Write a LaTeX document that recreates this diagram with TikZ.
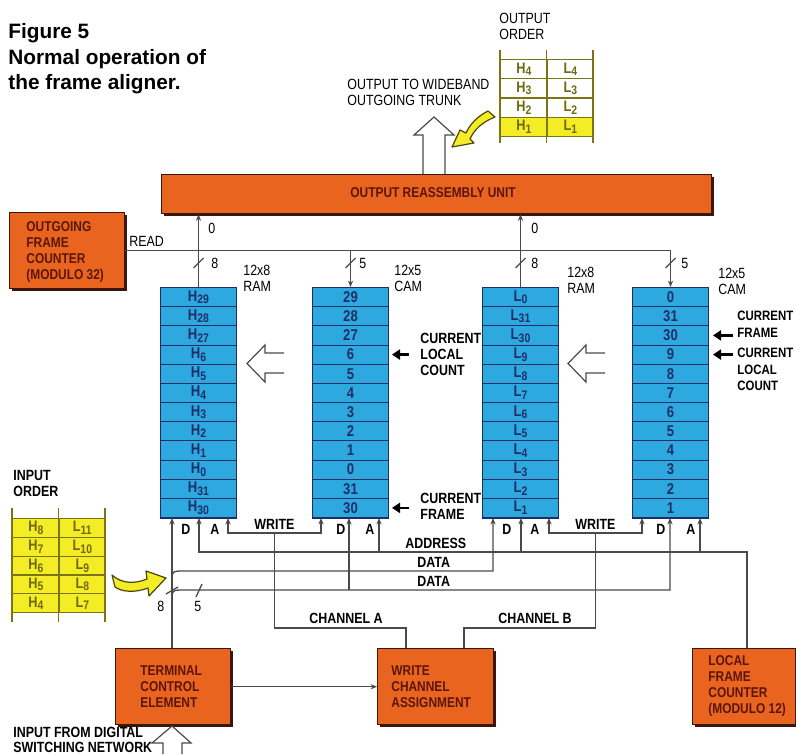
\documentclass[tikz,border=0pt]{standalone}
\usepackage{fontspec}
\setmainfont{Liberation Sans}[FakeStretch=0.84]
\newfontfamily\titlefont{Liberation Sans}
\usetikzlibrary{arrows.meta,calc,shadows}
\definecolor{org}{HTML}{E9641F}
\definecolor{orgdark}{HTML}{3B160C}
\definecolor{orgtext}{HTML}{5C150A}
\definecolor{cellblue}{HTML}{2EA9E0}
\definecolor{celldark}{HTML}{1E2F68}
\definecolor{ylw}{HTML}{F4EC24}
\definecolor{olivec}{HTML}{7C7514}
\definecolor{olivetext}{HTML}{6E6A10}
\definecolor{wirec}{HTML}{4A4A4A}
\newcommand\mysub[1]{\raisebox{-1.3pt}{\fontsize{6.2}{6}\selectfont #1}}
\newcommand\Hs[1]{H\mysub{#1}}
\newcommand\Ls[1]{L\mysub{#1}}
\newcommand\memcolumn[3]{%
  \foreach \t [count=\i] in {#3} {
    \node[cell] (#1-\i) at (#2,{287+(\i-1)*19.1667}) {\t};
  }
  \draw[celldark,line width=1.1pt] (#1-12.south west) -- (#1-12.south east);
}
\begin{document}
\begin{tikzpicture}[x=0.5pt,y=-0.5pt,
  wire/.style={draw=wirec,line width=0.65pt},
  port/.style={wire,-{Stealth[length=3.2pt,width=2.6pt]}},
  dport/.style={wire,{Stealth[length=3.2pt,width=2.6pt]}-{Stealth[length=3.2pt,width=2.6pt]}},
  lbl/.style={inner sep=0pt,anchor=base west,font=\fontsize{7.4}{8}\selectfont},
  blbl/.style={inner sep=0pt,anchor=base west,font=\fontsize{7.4}{8}\selectfont\bfseries},
  cell/.style={draw=celldark,fill=cellblue,line width=0.5pt,minimum width=38pt,minimum height=9.583pt,inner sep=0pt,anchor=north west,text=celldark,font=\fontsize{7.8}{8}\selectfont\bfseries},
  obox/.style={fill=org,draw=orgdark,line width=0.7pt,inner sep=0pt,anchor=north west,drop shadow={shadow xshift=1.2pt,shadow yshift=-1.2pt,fill=orgdark,opacity=1}},
  otxt/.style={inner sep=0pt,anchor=base west,text=orgtext,font=\fontsize{7.1}{8}\selectfont\bfseries},
  tcell/.style={draw=olivec,line width=0.6pt,minimum width=23.25pt,inner sep=0pt,anchor=north west,text=olivetext,font=\fontsize{7.6}{8}\selectfont\bfseries},
  hollow/.style={draw=wirec,fill=white,line width=0.6pt,line join=miter},
  curarrow/.style={draw=black,line width=1.3pt,-{Triangle[length=4pt,width=5pt]}},
  yarrow/.style={fill=ylw,draw=olivec!60!black,line width=0.6pt,line join=round}
]
\useasboundingbox (0,0) rectangle (796,754);
\fill[white] (0,0) rectangle (796,754);

% title
\node[anchor=base west,inner sep=0pt,font=\titlefont\bfseries\fontsize{10.4}{12}\selectfont] (t1) at (8,39) {Figure 5};
\node[anchor=base west,inner sep=0pt,font=\titlefont\bfseries\fontsize{10.4}{12}\selectfont] (t2) at (8,65) {Normal operation of};
\node[anchor=base west,inner sep=0pt,font=\titlefont\bfseries\fontsize{10.4}{12}\selectfont] (t3) at (8,90) {the frame aligner.};

% output order table
\node[lbl] (oolab1) at (499,24) {OUTPUT};
\node[lbl] (oolab2) at (499,40) {ORDER};
\foreach \a/\f [count=\i] in {4/white,3/white,2/white,1/ylw} {
  \node[tcell,fill=\f,minimum height=9.625pt] (oh\i) at (500,{59+(\i-1)*19.25}) {\Hs{\a}};
  \node[tcell,fill=\f,minimum height=9.625pt] (ol\i) at (546.5,{59+(\i-1)*19.25}) {\Ls{\a}};
}
\foreach \x in {500,546.5,593} \draw[olivec,line width=0.6pt] (\x,50) -- (\x,143);
\draw[yarrow] (488,111) .. controls (478,116) and (470,124) .. (466,133) -- (460,130) -- (452,147) -- (474,143) -- (470,139) .. controls (474,130) and (482,122) .. (495,117) -- cycle;

\node[lbl] (wt1) at (347,90) {OUTPUT TO WIDEBAND};
\node[lbl] (wt2) at (347,106) {OUTGOING TRUNK};

% boxes
\node[obox,minimum width=275pt,minimum height=19.5pt] (oru) at (161,174) {};
\node[otxt,anchor=base] (orut) at (433,198) {OUTPUT REASSEMBLY UNIT};
\draw[hollow] (423,174) -- (423,135) -- (414,135) -- (434,117) -- (454,135) -- (445,135) -- (445,174);

\node[obox,minimum width=57.5pt,minimum height=38pt] (ofc) at (9,212) {};
\node[otxt,align=left,anchor=north west] (ofct) at (26,221) {OUTGOING\\FRAME\\COUNTER\\(MODULO 32)};

\node[obox,minimum width=57.5pt,minimum height=38pt] (tce) at (115,648) {};
\node[otxt,align=left,anchor=north west] (tcet) at (140,665) {TERMINAL\\CONTROL\\ELEMENT};
\node[obox,minimum width=58pt,minimum height=38pt] (wca) at (377,648) {};
\node[otxt,align=left,anchor=north west] (wcat) at (391,665) {WRITE\\CHANNEL\\ASSIGNMENT};
\node[obox,minimum width=51.5pt,minimum height=38pt] (lfc) at (692,648) {};
\node[otxt,align=left,anchor=north west] (lfct) at (708,655) {LOCAL\\FRAME\\COUNTER\\(MODULO 12)};

% memory columns
\memcolumn{ram1}{160}{\Hs{29},\Hs{28},\Hs{27},\Hs{6},\Hs{5},\Hs{4},\Hs{3},\Hs{2},\Hs{1},\Hs{0},\Hs{31},\Hs{30}}
\memcolumn{cam1}{312}{29,28,27,6,5,4,3,2,1,0,31,30}
\memcolumn{ram2}{482}{\Ls{0},\Ls{31},\Ls{30},\Ls{9},\Ls{8},\Ls{7},\Ls{6},\Ls{5},\Ls{4},\Ls{3},\Ls{2},\Ls{1}}
\memcolumn{cam2}{632}{0,31,30,9,8,7,6,5,4,3,2,1}

\node[lbl] (m1a) at (243,275) {12x8};
\node[lbl] (m1b) at (243,291) {RAM};
\node[lbl] (m2a) at (394,275) {12x5};
\node[lbl] (m2b) at (394,291) {CAM};
\node[lbl] (m3a) at (567,277) {12x8};
\node[lbl] (m3b) at (567,293) {RAM};
\node[lbl] (m4a) at (718,278) {12x5};
\node[lbl] (m4b) at (718,294) {CAM};

% top connections
\node[lbl] (readl) at (129,246) {READ};
\draw[port] (ofc.east) -| (cam2-1.north);
\draw[port] (cam1-1.north |- ofc.east) -- (cam1-1.north);
\draw[port] (ram1-1.north) -- (ram1-1.north |- oru.south);
\draw[port] (ram2-1.north) -- (ram2-1.north |- oru.south);
\foreach \c in {ram1,cam1,ram2,cam2}
  \draw[wire] ($(\c-1.north)+(-5,-19)$) -- ($(\c-1.north)+(5,-29)$);
\node[lbl] (z1) at (208,233) {0};
\node[lbl] (z2) at (531,233) {0};
\node[lbl] (n1) at (211,268) {8};
\node[lbl] (n2) at (531,268) {8};
\node[lbl] (n3) at (359,268) {5};
\node[lbl] (n4) at (681,268) {5};

% hollow arrows between columns
\draw[hollow] (284,353) -- (265,353) -- (265,345) -- (247,363.5) -- (265,382) -- (265,373) -- (284,373);
\draw[hollow] (605,353) -- (586,353) -- (586,345) -- (568,363.5) -- (586,382) -- (586,373) -- (605,373);

% current pointers
\draw[curarrow] ($(cam1-4.east)+(20,0)$) -- ($(cam1-4.east)+(3,0)$);
\draw[curarrow] ($(cam1-12.east)+(20,0)$) -- ($(cam1-12.east)+(3,0)$);
\draw[curarrow] ($(cam2-3.east)+(24,0)$) -- ($(cam2-3.east)+(4,0)$);
\draw[curarrow] ($(cam2-4.east)+(24,0)$) -- ($(cam2-4.east)+(4,0)$);
\node[blbl,align=left,anchor=north west] (cl1) at (420,333) {CURRENT\\LOCAL\\COUNT};
\node[blbl,align=left,anchor=north west] (cf1) at (420,493) {CURRENT\\FRAME};
\node[blbl,align=left,anchor=north west,font=\fontsize{6.8}{8.2}\selectfont\bfseries] (cf2) at (737,311) {CURRENT\\FRAME};
\node[blbl,align=left,anchor=north west,font=\fontsize{6.8}{8.2}\selectfont\bfseries] (cl2) at (737,348) {CURRENT\\LOCAL\\COUNT};

% ports
\coordinate (r1D) at ($(ram1-12.south west)+(12,0)$);
\coordinate (r1A) at ($(ram1-12.south west)+(39,0)$);
\coordinate (r1W) at ($(ram1-12.south west)+(68,0)$);
\coordinate (c1W) at ($(cam1-12.south west)+(9,0)$);
\coordinate (c1D) at ($(cam1-12.south west)+(37,0)$);
\coordinate (c1A) at ($(cam1-12.south west)+(67,0)$);
\coordinate (r2D) at ($(ram2-12.south west)+(11,0)$);
\coordinate (r2A) at ($(ram2-12.south west)+(39,0)$);
\coordinate (r2W) at ($(ram2-12.south west)+(67,0)$);
\coordinate (c2W) at ($(cam2-12.south west)+(10,0)$);
\coordinate (c2D) at ($(cam2-12.south west)+(38,0)$);
\coordinate (c2A) at ($(cam2-12.south west)+(68,0)$);
\coordinate (yW) at (0,533);
\coordinate (yA) at (0,552);
\coordinate (yD1) at (0,571);
\coordinate (yD2) at (0,590);
\coordinate (chA) at ($(wca.north west)+(29,0)$);
\coordinate (chB) at ($(wca.north west)+(87,0)$);
\coordinate (lfcA) at ($(lfc.north west)+(55,0)$);

\node[blbl] (pd1) at (181,534) {D};
\node[blbl] (pa1) at (210,534) {A};
\node[blbl] (pd2) at (336,534) {D};
\node[blbl] (pa2) at (365,534) {A};
\node[blbl] (pd3) at (502,534) {D};
\node[blbl] (pa3) at (530,534) {A};
\node[blbl] (pd4) at (656,534) {D};
\node[blbl] (pa4) at (686,534) {A};
\node[blbl] (wr1) at (254,529) {WRITE};
\node[blbl] (wr2) at (575,529) {WRITE};

% write lines
\draw[dport] (r1W) -- (r1W |- yW) -| (c1W);
\draw[dport] (r2W) -- (r2W |- yW) -| (c2W);
\draw[wire] ($(r1W |- yW)!0.5!(c1W |- yW)$) -- ++(0,95) -| (chA);
\draw[wire] ($(r2W |- yW)!0.5!(c2W |- yW)$) -- ++(0,95) -| (chB);
\node[blbl] (cha) at (309,623) {CHANNEL A};
\node[blbl] (chb) at (498,623) {CHANNEL B};

% address bus
\draw[port] (lfcA) |- (r1A |- yA) -- (r1A);
\draw[port] (c1A |- yA) -- (c1A);
\draw[port] (r2A |- yA) -- (r2A);
\draw[port] (c2A |- yA) -- (c2A);
\node[blbl] (addr) at (405,548) {ADDRESS};

% data buses
\draw[port] (tce.north -| r1D) -- (r1D);
\coordinate (k1) at (r1D |- yD1);
\coordinate (k2) at (r1D |- yD2);
\draw[port] ($(k1)+(0,12)$) .. controls (k1) .. ($(k1)+(12,0)$) -| (r2D);
\draw[port] ($(k2)+(0,12)$) .. controls (k2) .. ($(k2)+(12,0)$) -| (c2D);
\draw[port] (c1D |- yD2) -- (c1D);
\node[blbl] (dat1) at (417,567) {DATA};
\node[blbl] (dat2) at (417,586) {DATA};
\draw[wire] (166,594) -- (178,587);
\draw[wire] (196,597) -- (202,584);
\node[lbl] (b8) at (157,611) {8};
\node[lbl] (b5) at (194,611) {5};

% TCE to WCA
\draw[port] (tce) -- (wca);

% input order table
\node[blbl] (iol1) at (13,480) {INPUT};
\node[blbl] (iol2) at (13,496) {ORDER};
\foreach \a/\b [count=\i] in {8/11,7/10,6/9,5/8,4/7} {
  \node[tcell,fill=ylw,minimum height=9.4pt] (ih\i) at (12,{518+(\i-1)*18.8}) {\Hs{\a}};
  \node[tcell,fill=ylw,minimum height=9.4pt] (il\i) at (58.5,{518+(\i-1)*18.8}) {\Ls{\b}};
}
\foreach \x in {12,58.5,105} \draw[olivec,line width=0.6pt] (\x,508) -- (\x,622);
\draw[yarrow] (112,575) .. controls (122,584) and (135,584) .. (147,579) -- (146,571) -- (166,578) -- (149,596) -- (148,588) .. controls (135,593) and (122,592) .. (115,587) -- cycle;

% input arrow
\draw[hollow] (163,754) -- (163,743) -- (152,743) -- (172,726) -- (191,743) -- (182,743) -- (182,754);
\node[blbl] (in1) at (13,737) {INPUT FROM DIGITAL};
\node[blbl] (in2) at (13,752) {SWITCHING NETWORK};
\end{tikzpicture}
\end{document}
